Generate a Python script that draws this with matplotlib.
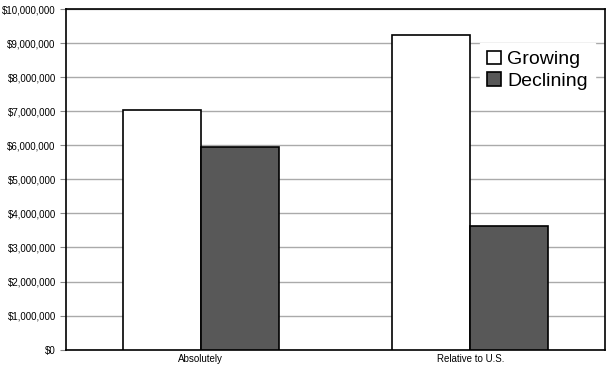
import numpy as np
from matplotlib import pyplot as plt
from matplotlib.ticker import FuncFormatter

plt.rcParams['font.family'] = ['Liberation Sans', 'DejaVu Sans']

categories = ['Absolutely', 'Relative to U.S.']
growing = [7050000, 9230000]
declining = [5950000, 3640000]

fig = plt.figure(figsize=(6.13, 3.68), dpi=100)
ax = fig.add_axes([0.108, 0.05, 0.879, 0.925])

x = np.arange(len(categories))
w = 0.29
ax.bar(x - w / 2, growing, w, color='white', edgecolor='black', linewidth=1.2, label='Growing', zorder=3)
ax.bar(x + w / 2, declining, w, color='#585858', edgecolor='black', linewidth=1.2, label='Declining', zorder=3)

ax.set_xlim(-0.5, 1.5)
ax.set_ylim(0, 10000000)
ax.set_yticks(np.arange(0, 10000001, 1000000))
ax.yaxis.set_major_formatter(FuncFormatter(lambda v, p: '${:,.0f}'.format(v)))
ax.grid(axis='y', color='#aaaaaa', linewidth=1, zorder=0)
ax.set_xticks(x)
ax.set_xticklabels(categories, fontsize=7)
ax.tick_params(axis='y', labelsize=7, length=4, color='#888888')
ax.tick_params(axis='x', length=0, pad=3)
for s in ax.spines.values():
    s.set_linewidth(1.2)

leg = ax.legend(loc='upper right', bbox_to_anchor=(1.0, 0.93), fontsize=14, frameon=True,
                framealpha=1, edgecolor='white', fancybox=False, handlelength=0.7,
                handleheight=0.7, handletextpad=0.3, borderpad=0.4, labelspacing=0.2)

fig.savefig('out.png', dpi=100)
